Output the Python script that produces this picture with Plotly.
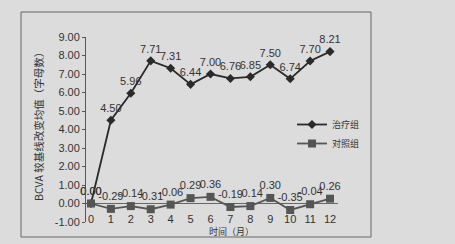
import plotly.graph_objects as go

months = list(range(13))
month_labels = [str(m) for m in months]
treat = [0.00, 4.50, 5.96, 7.71, 7.31, 6.44, 7.00, 6.76, 6.85, 7.50, 6.74, 7.70, 8.21]
control = [0.00, -0.29, -0.14, -0.31, -0.06, 0.29, 0.36, -0.19, -0.14, 0.30, -0.35, -0.04, 0.26]
y_ticks = [-1, 0, 1, 2, 3, 4, 5, 6, 7, 8, 9]
y_tick_labels = [f"{v:.2f}" for v in y_ticks]

W, H = 455, 244
def px(x):
    return x / W
def py(y):
    return (H - y) / H

num_font = "Liberation Sans, Arial, sans-serif"
cjk_font = "Noto Sans CJK SC, sans-serif"

fig = go.Figure()
fig.add_trace(go.Scatter(
    x=months, y=treat, name="治疗组", mode="lines+markers+text",
    text=[f"{v:.2f}" for v in treat], textposition="top center",
    textfont=dict(family=num_font, size=11, color="#333"),
    line=dict(color="#2a2a2a", width=1.8),
    marker=dict(symbol="diamond", size=7, color="#2a2a2a"),
    cliponaxis=False,
))
fig.add_trace(go.Scatter(
    x=months, y=control, name="对照组", mode="lines+markers+text",
    text=[f"{v:.2f}" for v in control], textposition="top center",
    textfont=dict(family=num_font, size=11, color="#333"),
    line=dict(color="#555", width=1.8),
    marker=dict(symbol="square", size=8, color="#555"),
    cliponaxis=False,
))

fig.update_layout(
    width=W, height=H,
    margin=dict(l=0, r=0, t=0, b=0, autoexpand=False),
    paper_bgcolor="#dcdcdc", plot_bgcolor="rgba(0,0,0,0)",
    showlegend=True,
    legend=dict(x=px(292), y=py(110), xanchor="left", yanchor="top",
                bgcolor="rgba(0,0,0,0)", font=dict(family=cjk_font, size=9, color="#333"),
                itemwidth=30, tracegroupgap=0),
    xaxis=dict(domain=[px(86), px(338)], range=[-0.25, 12.4],
               tickvals=months, ticktext=month_labels,
               anchor="free", position=py(211),
               showline=False, showgrid=False, zeroline=False, ticks="",
               tickfont=dict(family=num_font, size=11, color="#333")),
    yaxis=dict(domain=[py(222), py(37)], range=[-1, 9],
               tickvals=y_ticks, ticktext=y_tick_labels,
               showline=True, linecolor="#555", linewidth=1,
               ticks="outside", ticklen=3, tickcolor="#555",
               showgrid=False, zeroline=True, zerolinecolor="#666", zerolinewidth=1,
               tickfont=dict(family=num_font, size=11, color="#333")),
    shapes=[dict(type="rect", xref="paper", yref="paper",
                 x0=px(21), x1=px(371), y0=py(237), y1=py(12),
                 line=dict(color="#666", width=1), layer="below")],
    annotations=[
        dict(text="BCVA 较基线改变均值（字母数）", textangle=-90,
             xref="paper", yref="paper", x=px(38), y=py(124),
             xanchor="center", yanchor="middle",
             showarrow=False, font=dict(family=cjk_font, size=10.5, color="#333")),
        dict(text="时间（月）", xref="paper", yref="paper", x=px(232), y=py(231),
             xanchor="center", yanchor="middle",
             showarrow=False, font=dict(family=cjk_font, size=9, color="#333")),
    ],
)

fig.write_html("out.html")
